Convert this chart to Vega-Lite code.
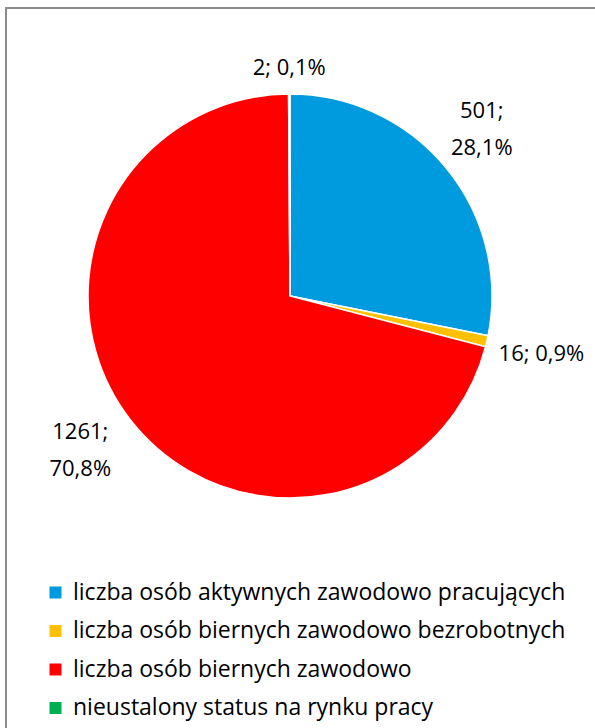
{
  "$schema": "https://vega.github.io/schema/vega-lite/v6.json",
  "autosize": "none",
  "width": 593,
  "height": 724,
  "padding": {"left": 6, "top": 8, "right": 0, "bottom": 0},
  "background": "white",
  "view": {"stroke": "#8c8c8c", "strokeWidth": 2},
  "config": {
    "view": {"stroke": "#8c8c8c", "strokeWidth": 2},
    "font": "Open Sans"
  },
  "data": {
    "values": [
      {"category": "liczba osób aktywnych zawodowo pracujących", "count": 501, "pct": 28.1, "ord": 1},
      {"category": "liczba osób biernych zawodowo bezrobotnych", "count": 16, "pct": 0.9, "ord": 2},
      {"category": "liczba osób biernych zawodowo", "count": 1261, "pct": 70.8, "ord": 3},
      {"category": "nieustalony status na rynku pracy", "count": 2, "pct": 0.1, "ord": 4}
    ]
  },
  "transform": [
    {"calculate": "replace(format(datum.pct, '.1f'), '.', ',')", "as": "pctStr"},
    {"calculate": "datum.count >= 100 ? [datum.count + ';', datum.pctStr + '%'] : datum.count + '; ' + datum.pctStr + '%'", "as": "label"}
  ],
  "encoding": {
    "theta": {"field": "count", "type": "quantitative", "stack": true},
    "order": {"field": "ord", "type": "ordinal"}
  },
  "layer": [
    {
      "mark": {"type": "arc", "outerRadius": 202, "stroke": "white", "strokeWidth": 1.5, "x": {"expr": "width/2 - 12.5"}, "y": {"expr": "height/2 - 74"}},
      "encoding": {
        "color": {
          "field": "category",
          "type": "nominal",
          "sort": ["liczba osób aktywnych zawodowo pracujących", "liczba osób biernych zawodowo bezrobotnych", "liczba osób biernych zawodowo", "nieustalony status na rynku pracy"],
          "scale": {
            "domain": ["liczba osób aktywnych zawodowo pracujących", "liczba osób biernych zawodowo bezrobotnych", "liczba osób biernych zawodowo", "nieustalony status na rynku pracy"],
            "range": ["#009ADE", "#FFC000", "#FF0000", "#00B050"]
          },
          "legend": {
            "orient": "none",
            "legendX": 38,
            "legendY": 573,
            "title": null,
            "symbolType": "square",
            "symbolSize": 144,
            "symbolStrokeWidth": 0,
            "labelFontSize": 23,
            "labelFont": "Open Sans",
            "labelColor": "#000000",
            "labelLimit": 600,
            "rowPadding": 14.5,
            "labelOffset": 6
          }
        }
      }
    },
    {
      "mark": {"type": "text", "radius": 257, "dx": -7, "dy": -22, "fontSize": 22, "font": "Open Sans", "color": "#000000", "x": {"expr": "width/2 - 12.5"}, "y": {"expr": "height/2 - 74"}, "lineHeight": 37},
      "encoding": {"text": {"condition": {"test": "datum.count >= 100", "field": "label"}, "value": ""}}
    },
    {
      "mark": {"type": "text", "radius": 258, "fontSize": 22, "font": "Open Sans", "color": "#000000", "x": {"expr": "width/2 - 12.5"}, "y": {"expr": "height/2 - 74"}},
      "encoding": {"text": {"condition": {"test": "datum.count >= 10 && datum.count < 100", "field": "label"}, "value": ""}}
    },
    {
      "mark": {"type": "text", "radius": 228, "fontSize": 22, "font": "Open Sans", "color": "#000000", "x": {"expr": "width/2 - 12.5"}, "y": {"expr": "height/2 - 74"}},
      "encoding": {"text": {"condition": {"test": "datum.count < 10", "field": "label"}, "value": ""}}
    }
  ]
}
